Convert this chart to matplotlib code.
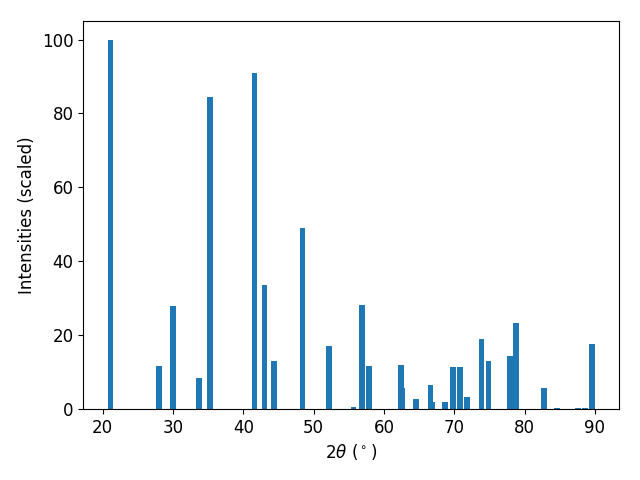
import matplotlib
matplotlib.use("Agg")
import matplotlib.pyplot as plt

matplotlib.rcParams.update({'font.size': 12})

# peak positions (2 theta, degrees) and scaled intensities
two_theta = [21.1, 28.0, 30.05, 33.7, 35.3, 41.6, 43.0, 44.4, 48.4, 52.2,
             55.7, 56.85, 57.9, 62.4, 62.6, 64.6, 66.65, 66.85, 68.7, 69.85,
             70.85, 71.85, 73.9, 74.85, 77.9, 78.8, 82.8, 84.65, 87.6, 88.6,
             89.55]
intensity = [100.0, 11.6, 27.9, 8.3, 84.5, 91.0, 33.5, 12.9, 49.0, 17.0,
             0.5, 28.1, 11.6, 11.9, 5.6, 2.7, 6.4, 1.9, 1.9, 11.3,
             11.3, 3.2, 18.9, 12.9, 14.3, 23.3, 5.6, 0.3, 0.3, 0.3,
             17.6]

fig, ax = plt.subplots(figsize=(6.4, 4.8), dpi=100)
ax.bar(two_theta, intensity, width=0.8)
ax.set_xlabel(r'$2\theta$ ($^\circ$)')
ax.set_ylabel('Intensities (scaled)')
fig.subplots_adjust(left=0.13, right=0.967, top=0.956, bottom=0.148)
fig.savefig('out.png')
